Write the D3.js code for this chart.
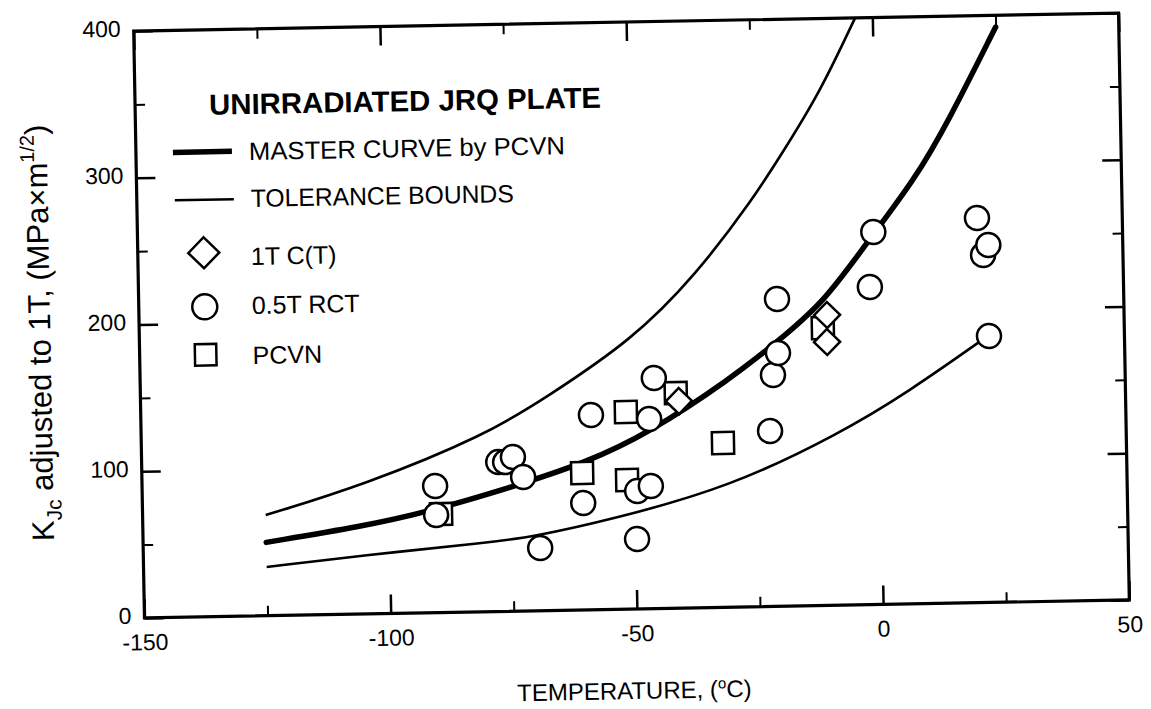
<!DOCTYPE html>
<html>
<head>
<meta charset="utf-8">
<script src="https://d3js.org/d3.v7.min.js"></script>
<style>
  body { margin: 0; background: #fff; }
  svg text { font-family: "Liberation Sans", Arial, Helvetica, sans-serif; fill: #000; }
</style>
</head>
<body>
<div id="chart"></div>
<script>
// curves (temperature in C, K_Jc in MPa*m^1/2)
var masterTemp = [-125, -105, -93, -75, -60, -47, -30, -21, -11, -2, 8, 15, 25];
var masterKjc  = [50, 60, 68, 84.5, 100, 119.5, 156, 179, 206, 246.5, 289, 328, 392];

var upperTemp = [-125, -105, -80, -67.5, -50, -37, -25, -18, -11, -3.5];
var upperKjc  = [68.6, 87.8, 120.4, 145.5, 183.3, 226, 277.2, 312.9, 349.3, 400];

var lowerTemp = [-125, -105, -80, -71, -54.5, -30.6, -8, 5.7, 22];
var lowerKjc  = [33.2, 40.1, 47, 50.3, 61.5, 81.9, 117.3, 144, 181];

// test results
var ctTemp = [-40.7, -10.3, -10.4];
var ctKjc  = [141.1, 197.9, 179.5];

var rctTemp = [-90.5, -90.4, -77.6, -76.2, -74.6, -72.6, -69.4, -58.6, -60.5, -49.7, -49.5, -46.7,
               -46.8, -45.7, -0.6, -20.4, -1.5, -21.5, -20.4, -22.3, 20.5, 21.6, 22.7, 22.5];
var rctKjc  = [86.3, 66.5, 101.8, 101.7, 105.1, 91.3, 42.7, 132.7, 72.8, 47.6, 80.3, 83.6,
               129.3, 157.1, 253.9, 209.4, 216.4, 157.7, 172.6, 119.6, 262.1, 236.8, 243.6, 181.6];

var pcvnTemp = [-89.4, -51.5, -60.6, -51.5, -41.3, -31.9, -11.2];
var pcvnKjc  = [67.1, 134.3, 93.3, 88.0, 146.6, 112.0, 189.1];

var xMajor = [-150, -100, -50, 0, 50];
var xMinor = [-125, -75, -25, 25];
var yMajor = [0, 100, 200, 300, 400];
var yMinor = [50, 150, 250, 350];

function zip(a, b) { return a.map(function(v, i) { return [v, b[i]]; }); }

var svgWidth = 1151;
var svgHeight = 709;
var margin = { top: 22, left: 139 };
var width = 985;
var height = 587;

var svg = d3.select("#chart")
  .append("svg")
  .attr("width", svgWidth)
  .attr("height", svgHeight);

// the source page was scanned a little crooked
var page = svg.append("g")
  .attr("transform", "rotate(-1.05, 631.5, 315.5)");

var chartGroup = page.append("g")
  .attr("transform", `translate(${margin.left}, ${margin.top})`);

var xScale = d3.scaleLinear().domain([-150, 50]).range([0, width]);
var yScale = d3.scaleLinear().domain([0, 400]).range([height, 0]);

var noLabel = function() { return ""; };
var plain = function(d) { return String(d); };

function styleAxis(g, w) {
  g.select(".domain").remove();
  g.selectAll("line").attr("stroke", "#000").attr("stroke-width", w);
  g.attr("font-size", 23);
}

// bottom + left carry the labels, all ticks point inward
chartGroup.append("g")
  .attr("transform", `translate(0, ${height})`)
  .call(d3.axisBottom(xScale).tickValues(xMajor).tickSize(-19).tickSizeOuter(0).tickPadding(16).tickFormat(plain))
  .call(styleAxis, 2.5);
chartGroup.append("g")
  .attr("transform", `translate(0, ${height})`)
  .call(d3.axisBottom(xScale).tickValues(xMinor).tickSize(-10).tickSizeOuter(0).tickFormat(noLabel))
  .call(styleAxis, 2);

chartGroup.append("g")
  .call(d3.axisLeft(yScale).tickValues(yMajor).tickSize(-19).tickSizeOuter(0).tickPadding(13).tickFormat(plain))
  .call(styleAxis, 2.5)
  .selectAll("text").attr("dy", "0.22em");
chartGroup.append("g")
  .call(d3.axisLeft(yScale).tickValues(yMinor).tickSize(-10).tickSizeOuter(0).tickFormat(noLabel))
  .call(styleAxis, 2);

chartGroup.append("g")
  .call(d3.axisTop(xScale).tickValues(xMajor).tickSize(-19).tickSizeOuter(0).tickFormat(noLabel))
  .call(styleAxis, 2.5);
chartGroup.append("g")
  .call(d3.axisTop(xScale).tickValues(xMinor).tickSize(-10).tickSizeOuter(0).tickFormat(noLabel))
  .call(styleAxis, 2);

chartGroup.append("g")
  .attr("transform", `translate(${width}, 0)`)
  .call(d3.axisRight(yScale).tickValues(yMajor).tickSize(-19).tickSizeOuter(0).tickFormat(noLabel))
  .call(styleAxis, 2.5);
chartGroup.append("g")
  .attr("transform", `translate(${width}, 0)`)
  .call(d3.axisRight(yScale).tickValues(yMinor).tickSize(-10).tickSizeOuter(0).tickFormat(noLabel))
  .call(styleAxis, 2);

chartGroup.append("rect")
  .attr("width", width)
  .attr("height", height)
  .attr("fill", "none")
  .attr("stroke", "#000")
  .attr("stroke-width", 3.2);

// curves
var line = d3.line()
  .x(d => xScale(d[0]))
  .y(d => yScale(d[1]))
  .curve(d3.curveBasis);

chartGroup.append("path")
  .datum(zip(upperTemp, upperKjc))
  .attr("d", line)
  .attr("fill", "none").attr("stroke", "#000").attr("stroke-width", 2.6);
chartGroup.append("path")
  .datum(zip(lowerTemp, lowerKjc))
  .attr("d", line)
  .attr("fill", "none").attr("stroke", "#000").attr("stroke-width", 2.6);
chartGroup.append("path")
  .datum(zip(masterTemp, masterKjc))
  .attr("d", line)
  .attr("fill", "none").attr("stroke", "#000").attr("stroke-width", 5.5)
  .attr("stroke-linecap", "round");

// markers: squares under diamonds under circles
var square = d3.symbol().type(d3.symbolSquare).size(484);
var diamond = d3.symbol().type(d3.symbolSquare).size(340);

chartGroup.selectAll(".pcvn")
  .data(zip(pcvnTemp, pcvnKjc))
  .enter()
  .append("path")
  .attr("class", "pcvn")
  .attr("d", square)
  .attr("transform", d => `translate(${xScale(d[0])}, ${yScale(d[1])})`)
  .attr("fill", "#fff").attr("stroke", "#000").attr("stroke-width", 2.5);

chartGroup.selectAll(".ct")
  .data(zip(ctTemp, ctKjc))
  .enter()
  .append("path")
  .attr("class", "ct")
  .attr("d", diamond)
  .attr("transform", d => `translate(${xScale(d[0])}, ${yScale(d[1])}) rotate(45)`)
  .attr("fill", "#fff").attr("stroke", "#000").attr("stroke-width", 2.5);

chartGroup.selectAll(".rct")
  .data(zip(rctTemp, rctKjc))
  .enter()
  .append("circle")
  .attr("class", "rct")
  .attr("cx", d => xScale(d[0]))
  .attr("cy", d => yScale(d[1]))
  .attr("r", 12)
  .attr("fill", "#fff").attr("stroke", "#000").attr("stroke-width", 2.5);

// legend
var legend = chartGroup.append("g");

legend.append("text")
  .attr("x", 74).attr("y", 85)
  .attr("font-size", 29).attr("font-weight", "bold")
  .attr("textLength", 392).attr("lengthAdjust", "spacingAndGlyphs")
  .text("UNIRRADIATED JRQ PLATE");

legend.append("line")
  .attr("x1", 37).attr("x2", 96).attr("y1", 122).attr("y2", 122)
  .attr("stroke", "#000").attr("stroke-width", 5.5);
legend.append("text")
  .attr("x", 113).attr("y", 131).attr("font-size", 25)
  .attr("textLength", 316).attr("lengthAdjust", "spacingAndGlyphs")
  .text("MASTER CURVE by PCVN");

legend.append("line")
  .attr("x1", 38).attr("x2", 97).attr("y1", 170).attr("y2", 170)
  .attr("stroke", "#000").attr("stroke-width", 2.5);
legend.append("text")
  .attr("x", 114).attr("y", 178).attr("font-size", 25)
  .attr("textLength", 263).attr("lengthAdjust", "spacingAndGlyphs")
  .text("TOLERANCE BOUNDS");

legend.append("path")
  .attr("d", d3.symbol().type(d3.symbolSquare).size(480))
  .attr("transform", "translate(66, 223) rotate(45)")
  .attr("fill", "#fff").attr("stroke", "#000").attr("stroke-width", 2.5);
legend.append("text")
  .attr("x", 113).attr("y", 236).attr("font-size", 25)
  .text("1T C(T)");

legend.append("circle")
  .attr("cx", 66).attr("cy", 277).attr("r", 12.5)
  .attr("fill", "#fff").attr("stroke", "#000").attr("stroke-width", 2.5);
legend.append("text")
  .attr("x", 113).attr("y", 285).attr("font-size", 25)
  .text("0.5T RCT");

legend.append("path")
  .attr("d", d3.symbol().type(d3.symbolSquare).size(460))
  .attr("transform", "translate(66, 325)")
  .attr("fill", "#fff").attr("stroke", "#000").attr("stroke-width", 2.5);
legend.append("text")
  .attr("x", 113).attr("y", 335).attr("font-size", 25)
  .text("PCVN");

// axis titles
var yTitle = page.append("text")
  .attr("transform", "translate(50, 322) rotate(-90)")
  .attr("text-anchor", "middle")
  .attr("font-size", 31);
yTitle.append("tspan").text("K");
yTitle.append("tspan").attr("dy", 8).attr("font-size", 21).text("Jc");
yTitle.append("tspan").attr("dy", -8).text(" adjusted to 1T, (MPa×m");
yTitle.append("tspan").attr("dy", -13).attr("font-size", 20).text("1/2");
yTitle.append("tspan").attr("dy", 13).text(")");

var xTitle = page.append("text")
  .attr("x", margin.left + width / 2 - 4)
  .attr("y", 699)
  .attr("text-anchor", "middle")
  .attr("font-size", 24);
xTitle.append("tspan").text("TEMPERATURE, (");
xTitle.append("tspan").attr("dy", -9).attr("font-size", 15).text("o");
xTitle.append("tspan").attr("dy", 9).text("C)");
</script>
</body>
</html>
